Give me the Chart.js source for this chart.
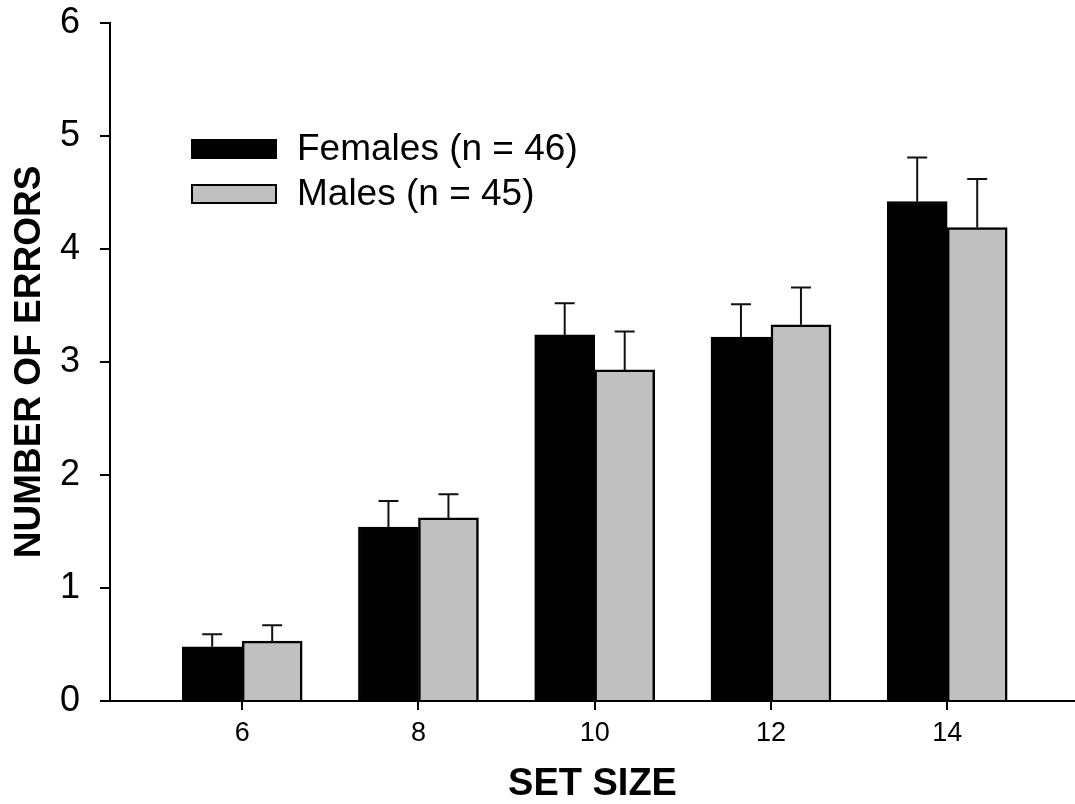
<!DOCTYPE html>
<html>
<head>
<meta charset="utf-8">
<script src="https://cdn.jsdelivr.net/npm/chart.js@4.4.1/dist/chart.umd.min.js"></script>
<style>
  html, body { margin: 0; padding: 0; background: #ffffff; }
  #wrap { width: 1075px; height: 804px; position: relative; }
</style>
</head>
<body>
<div id="wrap"><canvas id="c"></canvas></div>
<script>
// ---- data ----
const setSizes = [6, 8, 10, 12, 14];
const femalesMean = [0.48, 1.54, 3.24, 3.22, 4.42];
const femalesSE   = [0.11, 0.23, 0.28, 0.29, 0.39];
const malesMean   = [0.53, 1.62, 2.93, 3.33, 4.19];
const malesSE     = [0.14, 0.21, 0.34, 0.33, 0.43];
const yTicks = [0, 1, 2, 3, 4, 5, 6];
const seriesLabels = ['Females (n = 46)', 'Males (n = 45)'];
const xTitle = 'SET SIZE';
const yTitle = 'NUMBER OF ERRORS';

const FONT = '"Liberation Sans", Arial, Helvetica, sans-serif';

const errorBars = {
  id: 'errorBars',
  afterDatasetsDraw(chart) {
    const ctx = chart.ctx;
    const yScale = chart.scales.y;
    ctx.save();
    ctx.strokeStyle = '#111';
    ctx.lineWidth = 2;
    chart.data.datasets.forEach((ds, di) => {
      const meta = chart.getDatasetMeta(di);
      meta.data.forEach((bar, i) => {
        const v = ds.data[i].y;
        const top = yScale.getPixelForValue(v + ds.errors[i]);
        const base = yScale.getPixelForValue(v);
        ctx.beginPath();
        ctx.moveTo(bar.x, base);
        ctx.lineTo(bar.x, top);
        ctx.moveTo(bar.x - 10, top);
        ctx.lineTo(bar.x + 10, top);
        ctx.stroke();
      });
    });
    ctx.restore();
  }
};

const boxLegend = {
  id: 'boxLegend',
  afterDraw(chart) {
    const ctx = chart.ctx;
    const area = chart.chartArea;
    const x0 = area.left + 81;
    const y0 = area.top + 126;
    const rowH = 45;
    const boxW = 86, boxH = 20;
    ctx.save();
    ctx.font = '37px ' + FONT;
    ctx.textBaseline = 'middle';
    ctx.textAlign = 'left';
    chart.data.datasets.forEach((ds, i) => {
      const cy = y0 + i * rowH;
      ctx.fillStyle = ds.backgroundColor;
      ctx.fillRect(x0, cy - boxH / 2, boxW, boxH);
      ctx.strokeStyle = '#000';
      ctx.lineWidth = 2;
      ctx.strokeRect(x0 + 1, cy - boxH / 2 + 1, boxW - 2, boxH - 2);
      ctx.fillStyle = '#000';
      ctx.fillText(ds.label, x0 + boxW + 20, cy + 1);
    });
    ctx.restore();
  }
};

new Chart(document.getElementById('c'), {
  type: 'bar',
  data: {
    datasets: [
      {
        label: seriesLabels[0],
        data: setSizes.map((s, i) => ({ x: s, y: femalesMean[i] })),
        errors: femalesSE,
        backgroundColor: '#000000',
        borderColor: '#000000',
        borderWidth: 2,
        barThickness: 60
      },
      {
        label: seriesLabels[1],
        data: setSizes.map((s, i) => ({ x: s, y: malesMean[i] })),
        errors: malesSE,
        backgroundColor: '#c0c0c0',
        borderColor: '#000000',
        borderWidth: 2.5,
        barThickness: 60
      }
    ]
  },
  options: {
    responsive: true,
    maintainAspectRatio: false,
    animation: false,
    devicePixelRatio: 1,
    layout: { padding: { top: 23, right: 0, bottom: 0, left: 0 } },
    plugins: {
      legend: { display: false },
      tooltip: { enabled: false }
    },
    scales: {
      x: {
        type: 'linear',
        offset: false,
        min: 4.5,
        max: 15.45,
        afterBuildTicks(scale) { scale.ticks = setSizes.map(v => ({ value: v })); },
        afterFit(scale) { scale.height = 103; scale.paddingLeft = 0; scale.paddingRight = 0; },
        grid: { offset: false, drawOnChartArea: false, drawTicks: true, tickLength: 9, color: '#000', lineWidth: 2 },
        border: { display: true, color: '#000', width: 2 },
        ticks: {
          color: '#000',
          padding: 7,
          autoSkip: false,
          maxRotation: 0,
          font: { family: FONT, size: 27 },
          callback: (v) => String(v)
        },
        title: {
          display: true,
          text: xTitle,
          color: '#000',
          font: { family: FONT, size: 38, weight: 'bold', lineHeight: 1 },
          padding: { top: 0, bottom: 0 }
        }
      },
      y: {
        min: 0,
        max: 6,
        afterBuildTicks(scale) { scale.ticks = yTicks.map(v => ({ value: v })); },
        afterFit(scale) { scale.width = 110; scale.paddingTop = 0; scale.paddingBottom = 0; },
        grid: { drawOnChartArea: false, drawTicks: true, tickLength: 10, color: '#000', lineWidth: 2 },
        border: { display: true, color: '#000', width: 2 },
        ticks: {
          color: '#000',
          padding: 20,
          font: { family: FONT, size: 36 },
          callback: (v) => String(v)
        },
        title: {
          display: true,
          text: yTitle,
          color: '#000',
          font: { family: FONT, size: 37, weight: 'bold', lineHeight: 1 },
          padding: { top: 11, bottom: 0 }
        }
      }
    }
  },
  plugins: [errorBars, boxLegend]
});
</script>
</body>
</html>
